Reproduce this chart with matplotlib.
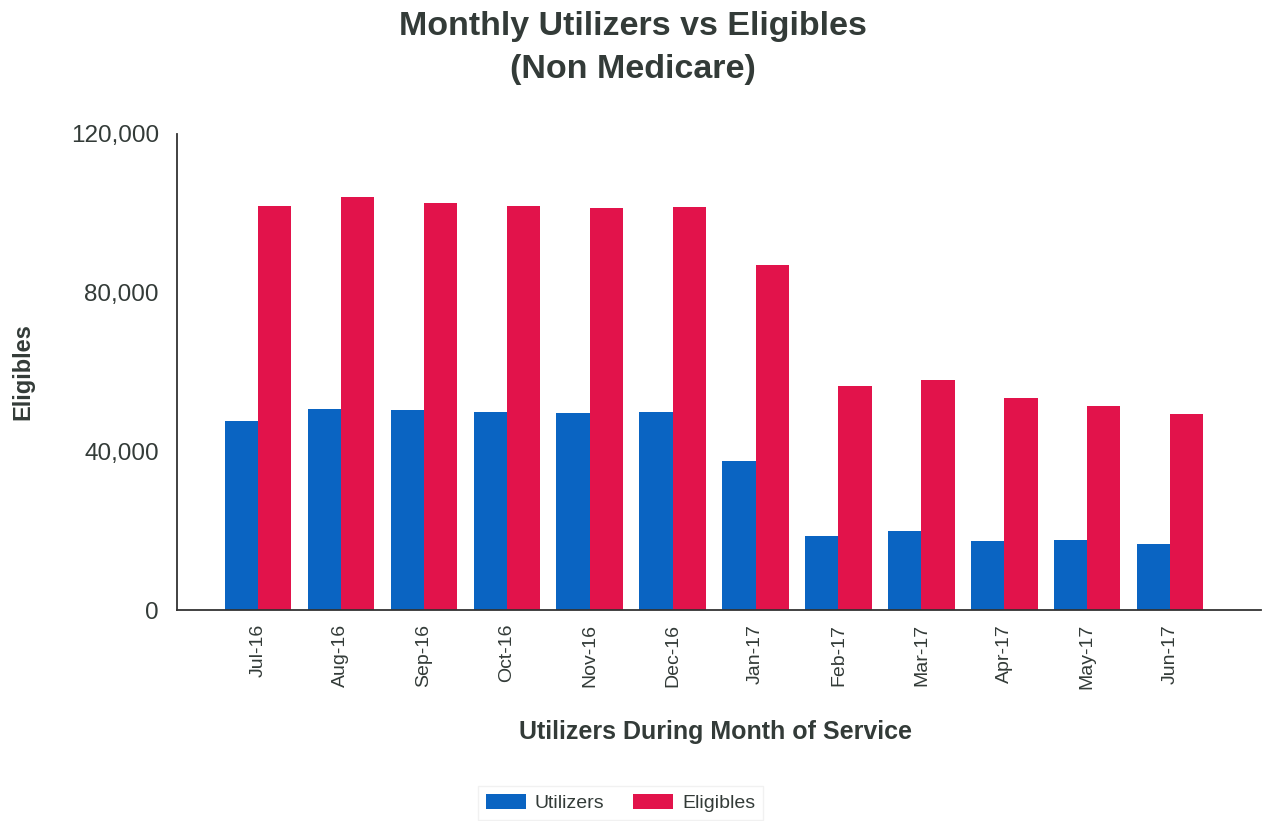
import matplotlib
matplotlib.use("Agg")
from matplotlib import pyplot as plt
from matplotlib.ticker import FuncFormatter
import numpy as np

# Valores
meses = ['Jul-16', 'Aug-16', 'Sep-16', 'Oct-16', 'Nov-16', 'Dec-16',
         'Jan-17', 'Feb-17', 'Mar-17', 'Apr-17', 'May-17', 'Jun-17']
utilizers = [47600, 50600, 50400, 49900, 49600, 49900,
             37600, 18700, 19900, 17400, 17600, 16600]
eligibles = [101800, 104100, 102600, 101800, 101300, 101600,
             87000, 56500, 58000, 53400, 51400, 49400]

plt.rcParams['font.family'] = ['Liberation Sans', 'DejaVu Sans']
cor_texto = '#333b38'

fig = plt.figure(figsize=(12.64, 8.21), dpi=100)
ax = fig.add_axes([0.140, 0.257, 0.858, 0.580])

x = np.arange(len(meses))
larg = 0.40
ax.bar(x - larg / 2, utilizers, width=larg, color='#0a64c2', label='Utilizers')
ax.bar(x + larg / 2, eligibles, width=larg, color='#e2134b', label='Eligibles')

ax.set_xlim(-0.976, 12.1)
ax.set_ylim(0, 120000)
ax.set_yticks([0, 40000, 80000, 120000])
ax.yaxis.set_major_formatter(FuncFormatter(lambda v, p: f'{int(v):,}'))
ax.set_xticks(x)
ax.set_xticklabels(meses, rotation=90)
ax.tick_params(axis='y', length=0, pad=13, labelsize=17.5, labelcolor=cor_texto)
ax.tick_params(axis='x', length=0, pad=10, labelsize=14, labelcolor=cor_texto)

for lado in ['top', 'right']:
    ax.spines[lado].set_visible(False)
for lado in ['left', 'bottom']:
    ax.spines[lado].set_color('#333333')
    ax.spines[lado].set_linewidth(1.3)

# titulo em duas linhas
fig.text(0.501, 0.968, 'Monthly Utilizers vs Eligibles', ha='center',
         va='center', fontsize=24.5, fontweight='bold', color=cor_texto)
fig.text(0.501, 0.915, '(Non Medicare)', ha='center', va='center',
         fontsize=24.5, fontweight='bold', color=cor_texto)
fig.text(0.018, 0.548, 'Eligibles', rotation=90, ha='center', va='center',
         fontsize=17, fontweight='bold', color=cor_texto)
fig.text(0.566, 0.109, 'Utilizers During Month of Service', ha='center',
         va='center', fontsize=18, fontweight='bold', color=cor_texto)

leg = fig.legend(loc='center', bbox_to_anchor=(0.491, 0.022), ncol=2,
                 frameon=True, fontsize=14, handlelength=2.05,
                 handleheight=0.8, handletextpad=0.45, columnspacing=1.5,
                 fancybox=False)
leg.get_frame().set_edgecolor('#eeeeee')
for t in leg.get_texts():
    t.set_color(cor_texto)

fig.savefig('out.png', dpi=100)
